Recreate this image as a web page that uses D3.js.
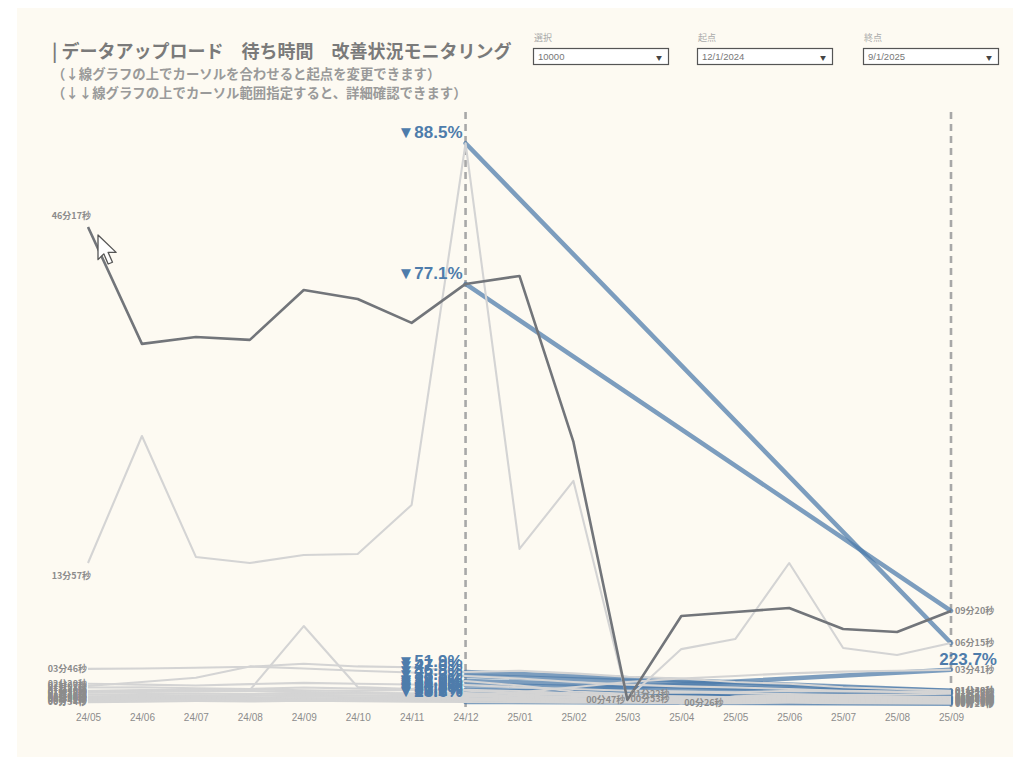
<!DOCTYPE html>
<html>
<head>
<meta charset="utf-8">
<script src="https://cdn.jsdelivr.net/npm/d3@7"></script>
<style>
  body { margin: 0; background: #fff; }
  text { font-family: "Noto Sans CJK JP", "Noto Sans", sans-serif; }
  .num { font-family: "Liberation Sans", Arial, sans-serif; }
</style>
</head>
<body>
<svg id="chart"></svg>
<script>
// months on the x axis
const months = ['24/05', '24/06', '24/07', '24/08', '24/09', '24/10', '24/11', '24/12',
  '25/01', '25/02', '25/03', '25/04', '25/05', '25/06', '25/07', '25/08', '25/09'];

// waiting time per month, in seconds
const seriesA = [2777, 2102, 2142, 2125, 2413, 2361, 2223, 2448, 2494, 1536, 47, 531, 554, 577, 456, 439, 560];
const seriesB = [837, 1570, 872, 837, 883, 889, 1172, 3260, 918, 1311, 53, 340, 398, 837, 346, 306, 375];
const seriesC = [95, 100, 105, 103, 473, 121, 110, 156, 130, 95, 82, 90, 85, 80, 75, 78, 83];
const seriesD = [226, 228, 232, 238, 255, 240, 235, 208, 215, 200, 180, 170, 150, 140, 120, 110, 100];
const seriesE = [127, 150, 175, 240, 228, 215, 205, 185, 170, 150, 135, 125, 118, 110, 100, 95, 98];
const seriesF = [60, 62, 65, 70, 75, 72, 70, 68.27, 90, 120, 150, 170, 185, 200, 210, 215, 221];
const seriesG = [140, 135, 130, 138, 145, 140, 136, 132, 120, 110, 100, 95, 90, 100, 96, 92, 88];
const seriesH = [118, 120, 114, 110, 118, 112, 108, 105, 98, 85, 75, 26, 68, 75, 70, 66, 64];
const seriesI = [100, 104, 106, 108, 102, 98, 104, 100, 88, 84, 72, 68, 62, 74, 70, 64, 62];
const seriesJ = [88, 92, 95, 98, 92, 88, 85, 86, 80, 76, 68, 62, 58, 66, 62, 58, 55];
const seriesK = [78, 80, 84, 80, 88, 84, 80, 76, 70, 66, 60, 56, 54, 60, 56, 52, 50];
const seriesL = [68, 70, 74, 72, 76, 72, 68, 66, 62, 58, 54, 50, 48, 54, 50, 46, 45];
const seriesM = [58, 62, 64, 60, 66, 62, 60, 58, 54, 50, 48, 45, 43, 48, 45, 42, 40];
const seriesN = [50, 54, 56, 54, 58, 54, 52, 50, 47, 44, 42, 40, 38, 42, 40, 37, 35];
const seriesO = [42, 46, 48, 46, 50, 47, 45, 43, 40, 38, 36, 34, 33, 36, 34, 32, 30];
const seriesP = [34, 37, 40, 38, 42, 39, 37, 35, 33, 31, 30, 28, 27, 30, 28, 26, 25];

const seriesNames = ['A', 'B', 'C', 'D', 'E', 'F', 'G', 'H', 'I', 'J', 'K', 'L', 'M', 'N', 'O', 'P'];
const seriesValues = [seriesA, seriesB, seriesC, seriesD, seriesE, seriesF, seriesG, seriesH,
  seriesI, seriesJ, seriesK, seriesL, seriesM, seriesN, seriesO, seriesP];
const highlighted = 'A';

// minimum labels shown in the middle of the chart: [series, month]
const minLabels = [['A', '25/03'], ['B', '25/03'], ['C', '25/03'], ['H', '25/04']];

// filter controls
const filterLabels = ['選択', '起点', '終点'];
const filterValues = ['10000', '12/1/2024', '9/1/2025'];
const startMonth = '24/12';
const endMonth = '25/09';

const titleText = '| データアップロード　待ち時間　改善状況モニタリング';
const noteLines = ['（↓線グラフの上でカーソルを合わせると起点を変更できます）',
  '（↓↓線グラフの上でカーソル範囲指定すると、詳細確認できます）'];

const width = 1024, height = 767;
const svg = d3.select('#chart').attr('width', width).attr('height', height);

svg.append('rect').attr('x', 17).attr('y', 8).attr('width', 996).attr('height', 749)
    .attr('fill', '#fdfaf2');

// title and notes
svg.append('text').attr('x', 52).attr('y', 58)
    .attr('font-size', 18).attr('font-weight', 700).attr('fill', '#7a7a7a')
    .text(titleText);
svg.selectAll('.note').data(noteLines).join('text')
    .attr('class', 'note')
    .attr('x', 52).attr('y', (d, i) => 79 + i * 19)
    .attr('font-size', 13.4).attr('font-weight', 700).attr('fill', '#9a9a9a')
    .text(d => d);

// filter boxes
const filterX = [533, 697, 863];
const filters = svg.selectAll('.filter').data(filterLabels).join('g')
    .attr('class', 'filter')
    .attr('transform', (d, i) => `translate(${filterX[i]},0)`);
filters.append('text').attr('x', 1).attr('y', 41)
    .attr('font-size', 9).attr('fill', '#aaa').text(d => d);
filters.append('rect').attr('x', 0.5).attr('y', 48.5).attr('width', 135).attr('height', 16)
    .attr('fill', '#fff').attr('stroke', '#555').attr('stroke-width', 1.2);
filters.append('text').attr('class', 'num').attr('x', 5).attr('y', 60)
    .attr('font-size', 9.5).attr('fill', '#777').text((d, i) => filterValues[i]);
filters.append('text').attr('x', 126).attr('y', 59.5).attr('text-anchor', 'middle')
    .attr('font-size', 6).attr('fill', '#444').text('▼');

// scales
const xScale = d3.scalePoint().domain(months).range([88, 951]);
const yScale = d3.scaleLinear().domain([0, 3400]).range([708, 119]);

const xAxis = d3.axisBottom(xScale).tickSize(0).tickPadding(6);
svg.append('g')
    .attr('transform', 'translate(0,708)')
    .call(xAxis)
    .call(g => g.select('.domain').remove())
    .call(g => g.selectAll('text')
        .attr('class', 'num')
        .attr('font-size', 10).attr('fill', '#8c8c8c'));

const data = seriesNames.map((name, i) => ({
  name,
  values: seriesValues[i].map((v, j) => ({month: months[j], value: v}))
}));

const line = d3.line().x(d => xScale(d.month)).y(d => yScale(d.value));

const fmtTime = v => {
  const s = Math.round(v);
  return `${String(Math.floor(s / 60)).padStart(2, '0')}分${String(s % 60).padStart(2, '0')}秒`;
};

// start / end reference lines
svg.append('g').selectAll('line').data([startMonth, endMonth]).join('line')
    .attr('x1', d => xScale(d)).attr('x2', d => xScale(d))
    .attr('y1', 112).attr('y2', 712)
    .attr('stroke', '#a8a8a8').attr('stroke-width', 2.6)
    .attr('stroke-dasharray', '7,5');

// slope from start to end for every series
const iStart = months.indexOf(startMonth), iEnd = months.indexOf(endMonth);
const slopes = data.map(d => ({
  name: d.name,
  start: d.values[iStart],
  end: d.values[iEnd],
  change: (d.values[iEnd].value - d.values[iStart].value) / d.values[iStart].value
}));
svg.append('g').selectAll('path').data(slopes).join('path')
    .attr('d', d => line([d.start, d.end]))
    .attr('fill', 'none')
    .attr('stroke', '#4e7cab').attr('stroke-opacity', 0.74)
    .attr('stroke-width', 4.5).attr('stroke-linecap', 'round');

// light lines over the slopes, the highlighted one on top
const ordered = data.filter(d => d.name !== highlighted).concat(data.filter(d => d.name === highlighted));
svg.append('g').selectAll('path').data(ordered).join('path')
    .attr('d', d => line(d.values))
    .attr('fill', 'none')
    .attr('stroke', d => d.name === highlighted ? '#72757a' : '#d4d4d4')
    .attr('stroke-width', d => d.name === highlighted ? 2.6 : 2.1)
    .attr('stroke-linejoin', 'round');

// start value labels
svg.append('g').selectAll('text').data(data).join('text')
    .each(function(d) {
      const y0 = yScale(d.values[0].value), y1 = yScale(d.values[1].value);
      const t = d3.select(this);
      if (y1 - y0 > 8) t.attr('x', xScale(months[0]) + 3).attr('y', y0 - 8);
      else if (y0 - y1 > 8) t.attr('x', xScale(months[0]) + 3).attr('y', y0 + 16);
      else t.attr('x', xScale(months[0]) - 1).attr('y', y0 + 3);
    })
    .attr('text-anchor', 'end')
    .attr('font-size', 9).attr('font-weight', 700).attr('fill', '#8c8c8c')
    .text(d => fmtTime(d.values[0].value));

// end value labels
svg.append('g').selectAll('text').data(data).join('text')
    .attr('x', xScale(endMonth) + 4)
    .attr('y', d => yScale(d.values[iEnd].value) + 3)
    .attr('font-size', 9).attr('font-weight', 700).attr('fill', '#8c8c8c')
    .text(d => fmtTime(d.values[iEnd].value));

// minimum labels
svg.append('g').selectAll('text').data(minLabels).join('text')
    .attr('x', d => xScale(d[1]) + (d[0] === highlighted ? -2 : 3))
    .attr('y', d => yScale(seriesValues[seriesNames.indexOf(d[0])][months.indexOf(d[1])]) + 3)
    .attr('text-anchor', d => d[0] === highlighted ? 'end' : 'start')
    .attr('font-size', 9).attr('font-weight', 700).attr('fill', '#8c8c8c')
    .text(d => fmtTime(seriesValues[seriesNames.indexOf(d[0])][months.indexOf(d[1])]));

// change labels: decreases at the start, increases at the end
const pctFmt = d3.format('.1f');
svg.append('g').selectAll('text').data(slopes).join('text')
    .attr('class', 'num')
    .attr('x', d => d.change < 0 ? xScale(startMonth) - 3 : xScale(endMonth) + 46)
    .attr('y', d => yScale(d.change < 0 ? d.start.value : d.end.value) - 5)
    .attr('text-anchor', 'end')
    .attr('font-size', 17).attr('font-weight', 700).attr('fill', '#4e7cab')
    .text(d => d.change < 0 ? `▼${pctFmt(-d.change * 100)}%` : `${pctFmt(d.change * 100)}%`);

// mouse pointer from the screenshot
svg.append('path')
    .attr('transform', 'translate(98,235) scale(1.45)')
    .attr('d', 'M0,0 L0,17 L4,13 L7,20 L10,18.8 L7,12 L12.5,12 Z')
    .attr('fill', '#fff').attr('stroke', '#555').attr('stroke-width', 0.9)
    .attr('stroke-linejoin', 'round');
</script>
</body>
</html>
